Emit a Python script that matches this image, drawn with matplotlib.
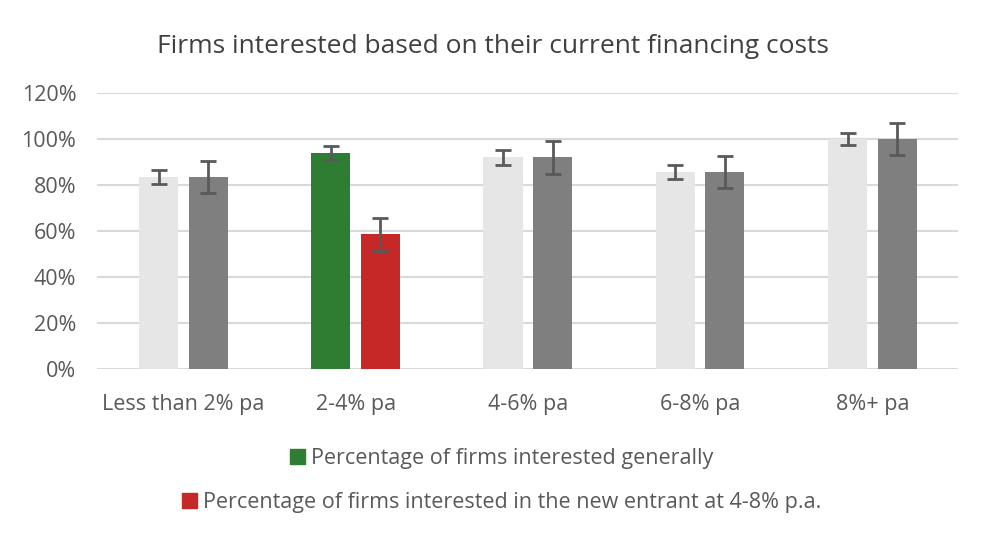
import numpy as np
import matplotlib
matplotlib.use("Agg")
import matplotlib.pyplot as plt
from matplotlib.patches import Patch

plt.rcParams['font.family'] = ['Open Sans', 'DejaVu Sans']

# Dados
categorias = ['Less than 2% pa', '2-4% pa', '4-6% pa', '6-8% pa', '8%+ pa']
geral = [83.5, 94, 92, 85.5, 100]        # firmas interessadas em geral
erro_geral = [3, 3, 3.2, 3, 2.8]
novo = [83.5, 58.5, 92, 85.5, 100]       # interessadas no novo entrante
erro_novo = [7, 7, 7, 7, 6.8]

legenda = ['Percentage of firms interested generally',
           'Percentage of firms interested in the new entrant at 4-8% p.a.']

cinza_claro = '#E7E6E6'
cinza_escuro = '#7F7F7F'
verde = '#2E7D32'
vermelho = '#C62828'
cor_texto = '#595959'

cores_geral = [cinza_claro] * len(categorias)
cores_novo = [cinza_escuro] * len(categorias)
cores_geral[1] = verde
cores_novo[1] = vermelho

fig = plt.figure(figsize=(9.82, 5.44), dpi=100)
ax = fig.add_axes([0.099, 0.3217, 0.877, 0.5073])

x = np.arange(len(categorias))
largura = 0.227
desloc = 0.144

ax.bar(x - desloc, geral, largura, color=cores_geral, zorder=2)
ax.bar(x + desloc, novo, largura, color=cores_novo, zorder=2)
ax.errorbar(x - desloc, geral, yerr=erro_geral, fmt='none', ecolor=cor_texto,
            elinewidth=2, capsize=6, capthick=2, zorder=3)
ax.errorbar(x + desloc, novo, yerr=erro_novo, fmt='none', ecolor=cor_texto,
            elinewidth=2, capsize=6, capthick=2, zorder=3)

ax.set_xlim(-0.5, len(categorias) - 0.5)
ax.set_ylim(0, 120)
ax.set_yticks(np.arange(0, 121, 20))
ax.set_yticklabels([f'{v}%' for v in range(0, 121, 20)])
ax.set_xticks(x)
ax.set_xticklabels(categorias)

ax.grid(axis='y', color='#D9D9D9', linewidth=1.5, zorder=0)
for s in ax.spines.values():
    s.set_visible(False)
ax.tick_params(length=0, labelsize=15.5, colors=cor_texto)
ax.tick_params(axis='y', pad=15)
ax.tick_params(axis='x', pad=18)

fig.text(0.502, 0.915, 'Firms interested based on their current financing costs',
         ha='center', va='center', fontsize=19, color='#404040')

for i, (cor, rotulo) in enumerate(zip([verde, vermelho], legenda)):
    fig.legend(handles=[Patch(color=cor, label=rotulo)],
               loc='center', bbox_to_anchor=(0.511, [0.157, 0.076][i]),
               frameon=False, fontsize=15.5, labelcolor=cor_texto,
               handlelength=0.7, handleheight=0.7, handletextpad=0.3)

fig.savefig('out.png', dpi=100)
